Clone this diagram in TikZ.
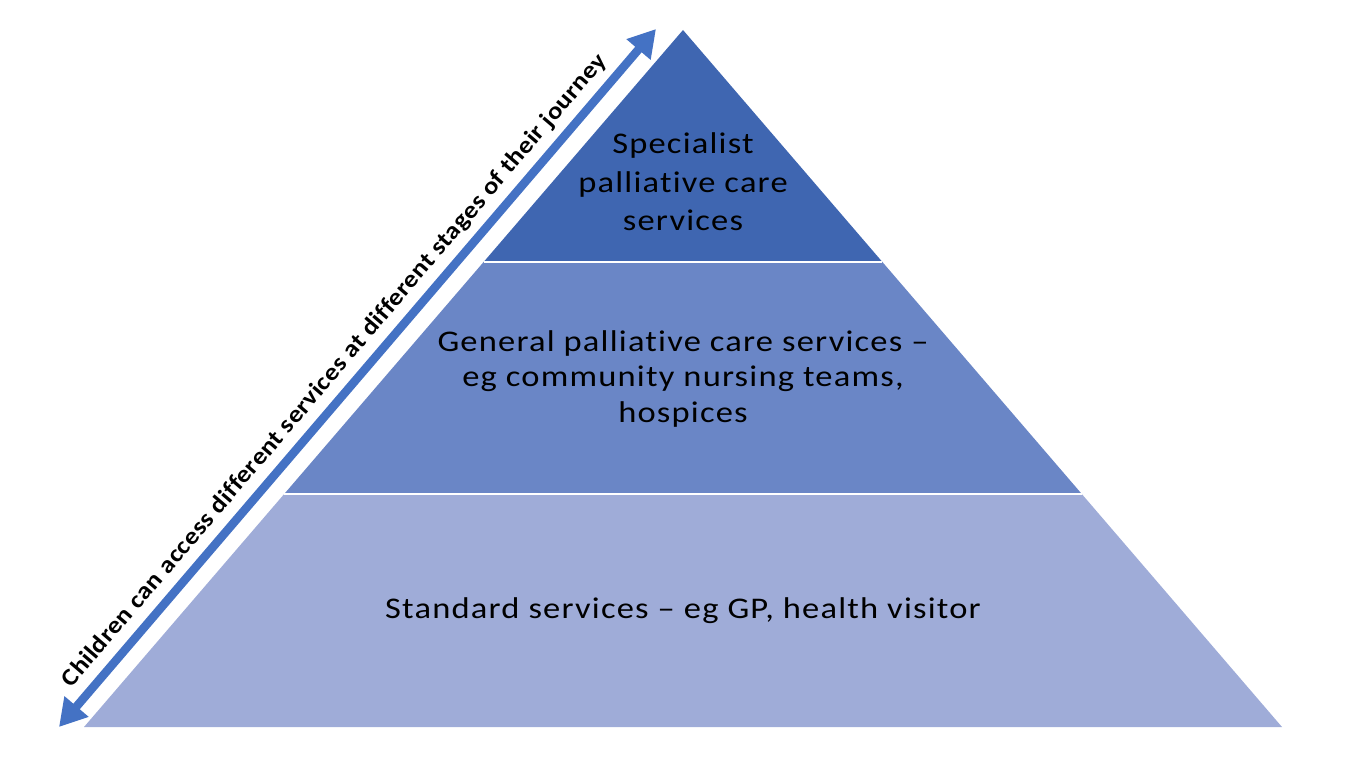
\documentclass[tikz,border=0pt]{standalone}
\usepackage{fontspec}
\setmainfont{Carlito}
\newfontfamily\widefont[FakeStretch=1.15,LetterSpace=4,Ligatures=NoCommon]{Carlito}
\newfontfamily\widebold[FakeStretch=1.12,LetterSpace=1.5,Ligatures=NoCommon]{Carlito Bold}
\usetikzlibrary{arrows.meta}
\definecolor{topblue}{RGB}{63,102,177}
\definecolor{midblue}{RGB}{106,134,198}
\definecolor{lowblue}{RGB}{159,172,216}
\definecolor{arrowblue}{RGB}{68,114,196}
\tikzset{
  layer/.style={draw=none},
  sep/.style={draw=white, line width=2pt},
  label/.style={font=\widefont\fontsize{30}{35.5}\selectfont, align=center, text=black},
  toplabel/.style={font=\widefont\fontsize{30}{38.5}\selectfont, align=center, text=black},
  journey/.style={draw=arrowblue, line width=8.5pt, {Triangle[width=30pt,length=27pt]}-{Triangle[width=30pt,length=27pt]}},
}
\begin{document}
\begin{tikzpicture}[x=1pt,y=-1pt]
\useasboundingbox (0,0) rectangle (1366,770);
% pyramid corners
\coordinate (apex) at (683,30);
\coordinate (bl) at (84,727);
\coordinate (br) at (1282,727);
\coordinate (ml1) at (483.6,262);
\coordinate (mr1) at (882.4,262);
\coordinate (ml2) at (284.2,494);
\coordinate (mr2) at (1081.8,494);
% layers
\fill[lowblue] (ml2) -- (mr2) -- (br) -- (bl) -- cycle;
\fill[midblue] (ml1) -- (mr1) -- (mr2) -- (ml2) -- cycle;
\fill[topblue] (apex) -- (mr1) -- (ml1) -- cycle;
\draw[sep] (ml1) -- (mr1);
\draw[sep] (ml2) -- (mr2);
% labels
\node[toplabel] (top) at (683,182) {Specialist\\palliative care\\services};
\node[label] (mid) at (683,379) {General palliative care services –\\eg community nursing teams,\\hospices};
\node[label] (low) at (683,611) {Standard services – eg GP, health visitor};
% arrow
\coordinate (a1) at (59,727);
\coordinate (a2) at (656,29);
\draw[journey] (a1) -- (a2) node[pos=0.49, sloped, above=4pt, font=\widebold\fontsize{24}{28}\selectfont, text=black] (jt) {Children can access different services at different stages of their journey};
\end{tikzpicture}
\end{document}
